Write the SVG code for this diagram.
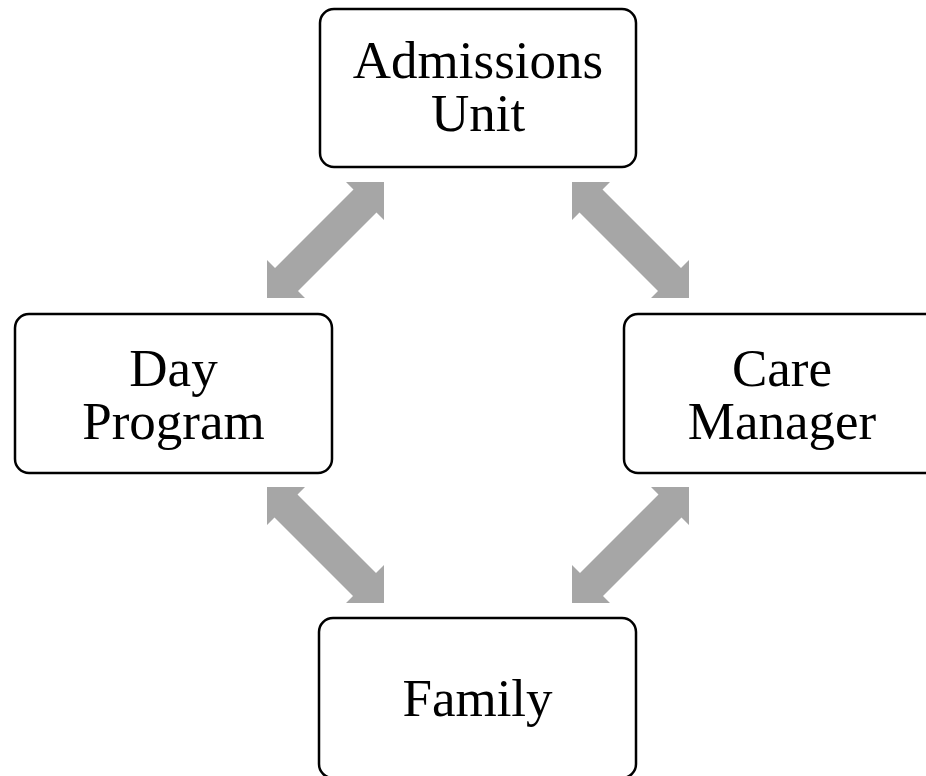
<svg xmlns="http://www.w3.org/2000/svg" width="926" height="776" viewBox="0 0 926 776">
<defs>
<style>
.box{fill:#fff;stroke:#000;stroke-width:2.5}
.lbl{font-family:"Liberation Serif","Times New Roman",serif;font-size:53px;fill:#000;text-anchor:middle}
.arr{fill:#A6A6A6}
</style>
<polygon id="a1" class="arr" points="384,182 384,220 376.5,212.5 298,291 305,298 267,298 267,260 275,268 353.5,189.5 346,182"/>
</defs>
<rect width="926" height="776" fill="#fff"/>
<g id="connectors">
<use href="#a1"/>
<use href="#a1" transform="translate(956,0) scale(-1,1)"/>
<use href="#a1" transform="translate(651,305) scale(-1,1)"/>
<use href="#a1" transform="translate(305,305)"/>
</g>
<g id="admissions">
<rect class="box" x="320" y="9" width="316" height="158" rx="14"/>
<text class="lbl" x="478" y="78">Admissions</text>
<text class="lbl" x="478" y="131">Unit</text>
</g>
<g id="day-program">
<rect class="box" x="15" y="314" width="317" height="159" rx="14"/>
<text class="lbl" x="173.5" y="386">Day</text>
<text class="lbl" x="173.5" y="439">Program</text>
</g>
<g id="care-manager">
<rect class="box" x="624" y="314" width="316" height="159" rx="14"/>
<text class="lbl" x="782" y="386">Care</text>
<text class="lbl" x="782" y="439">Manager</text>
</g>
<g id="family">
<rect class="box" x="319" y="618" width="317" height="160" rx="14"/>
<text class="lbl" x="477.5" y="716">Family</text>
</g>
</svg>
